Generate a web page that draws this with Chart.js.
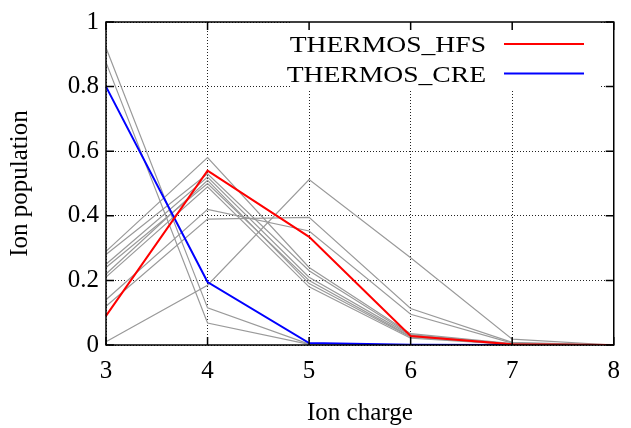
<!DOCTYPE html>
<html>
<head>
<meta charset="utf-8">
<script src="https://cdn.jsdelivr.net/npm/chart.js@4"></script>
<style>
html,body{margin:0;padding:0;background:#fff;}
#wrap{width:631px;height:428px;}
</style>
</head>
<body>
<div id="wrap"><canvas id="c" width="631" height="428"></canvas></div>
<script>
// ---- data ----
const ionCharges = ['3', '4', '5', '6', '7', '8'];
const yTickValues = [0, 0.2, 0.4, 0.6, 0.8, 1];
const yTickLabels = ['0', '0.2', '0.4', '0.6', '0.8', '1'];

const thermosHFS = [0.09, 0.54, 0.335, 0.028, 0.002, 0];
const thermosCRE = [0.80, 0.195, 0.006, 0.001, 0, 0];

const gray1 = [0.92, 0.115, 0.003, 0.0, 0.0, 0];
const gray2 = [0.875, 0.068, 0.002, 0.0, 0.0, 0];
const gray3 = [0.01, 0.185, 0.512, 0.27, 0.018, 0];
const gray4 = [0.29, 0.58, 0.24, 0.035, 0.004, 0];
const gray5 = [0.28, 0.53, 0.23, 0.032, 0.003, 0];
const gray6 = [0.25, 0.52, 0.21, 0.03, 0.003, 0];
const gray7 = [0.24, 0.50, 0.20, 0.026, 0.002, 0];
const gray8 = [0.22, 0.51, 0.19, 0.024, 0.002, 0];
const gray9 = [0.21, 0.49, 0.18, 0.021, 0.002, 0];
const gray10 = [0.14, 0.42, 0.353, 0.095, 0.006, 0];
const gray11 = [0.12, 0.39, 0.395, 0.113, 0.008, 0];
const grayRuns = [gray1, gray2, gray3, gray4, gray5, gray6, gray7, gray8, gray9, gray10, gray11];

const FONT = "'Liberation Serif', 'Times New Roman', serif";
const FS = 25;

const datasets = [
  {label: 'THERMOS_HFS', data: thermosHFS, borderColor: '#ff0000', borderWidth: 2, showInKey: true},
  {label: 'THERMOS_CRE', data: thermosCRE, borderColor: '#0000ff', borderWidth: 2, showInKey: true}
];
grayRuns.forEach((g, i) => datasets.push({label: 'run' + (i + 1), data: g, borderColor: '#9a9a9a', borderWidth: 1.2, showInKey: false}));
datasets.forEach(d => { d.pointRadius = 0; d.tension = 0; d.fill = false; d.borderJoinStyle = 'miter'; });

const PLOT = {left: 106, right: 621, top: 21, bottom: 345};

const framePlugin = {
  id: 'frame',
  beforeDatasetsDraw(chart) {
    const ctx = chart.ctx;
    ctx.save();
    ctx.fillStyle = '#fff';
    ctx.fillRect(291, 22, 309, 67);
    ctx.restore();
  },
  afterDraw(chart) {
    const ctx = chart.ctx;
    const a = chart.chartArea;
    const xs = chart.scales.x, ys = chart.scales.y;
    ctx.save();
    ctx.strokeStyle = '#000';
    ctx.lineWidth = 1.5;
    ctx.beginPath();
    const tl = 8;
    ionCharges.forEach((c, i) => {
      const px = xs.getPixelForValue(i);
      ctx.moveTo(px, a.bottom); ctx.lineTo(px, a.bottom - tl);
      ctx.moveTo(px, a.top); ctx.lineTo(px, a.top + tl);
    });
    yTickValues.forEach(v => {
      const py = ys.getPixelForValue(v);
      ctx.moveTo(a.left, py); ctx.lineTo(a.left + tl, py);
      ctx.moveTo(a.right, py); ctx.lineTo(a.right - tl, py);
    });
    ctx.stroke();
    ctx.strokeRect(a.left, a.top, a.right - a.left, a.bottom - a.top);
    // key
    ctx.font = '24px ' + FONT;
    ctx.textAlign = 'right';
    ctx.textBaseline = 'alphabetic';
    ctx.fillStyle = '#000';
    let row = 0;
    chart.data.datasets.forEach(d => {
      if (!d.showInKey) return;
      const yLine = 44 + row * 29.5;
      ctx.save();
      ctx.translate(486, yLine + 8);
      ctx.scale(1.15, 1);
      ctx.fillText(d.label, 0, 0);
      ctx.restore();
      ctx.strokeStyle = d.borderColor;
      ctx.lineWidth = 2;
      ctx.beginPath();
      ctx.moveTo(504, yLine); ctx.lineTo(584, yLine);
      ctx.stroke();
      row++;
    });
    ctx.restore();
  }
};

new Chart(document.getElementById('c'), {
  type: 'line',
  data: {labels: ionCharges, datasets: datasets},
  plugins: [framePlugin],
  options: {
    responsive: false,
    animation: false,
    devicePixelRatio: 1,
    layout: {padding: {left: 0, right: 631 - PLOT.right, top: PLOT.top, bottom: 0}},
    plugins: {legend: {display: false}, tooltip: {enabled: false}},
    scales: {
      x: {
        type: 'category',
        offset: false,
        afterFit(s) { s.height = 428 - PLOT.bottom; },
        grid: {color: '#222', lineWidth: 1, drawTicks: false},
        border: {display: false, dash: [1, 2]},
        ticks: {font: {family: FONT, size: FS}, color: '#000', padding: 11, maxRotation: 0, autoSkip: false},
        title: {display: true, text: 'Ion charge', font: {family: FONT, size: FS}, color: '#000', padding: {top: 0, bottom: 0}}
      },
      y: {
        type: 'linear',
        min: 0, max: 1,
        afterFit(s) { s.width = PLOT.left; },
        afterBuildTicks(s) { s.ticks = yTickValues.map(v => ({value: v})); },
        grid: {color: '#222', lineWidth: 1, drawTicks: false},
        border: {display: false, dash: [1, 2]},
        ticks: {
          font: {family: FONT, size: FS}, color: '#000', padding: 7,
          callback(v) { const i = yTickValues.indexOf(v); return i >= 0 ? yTickLabels[i] : ''; }
        },
        title: {display: true, text: 'Ion population', font: {family: FONT, size: FS}, color: '#000', padding: {top: 5, bottom: 0}}
      }
    }
  }
});
</script>
</body>
</html>
